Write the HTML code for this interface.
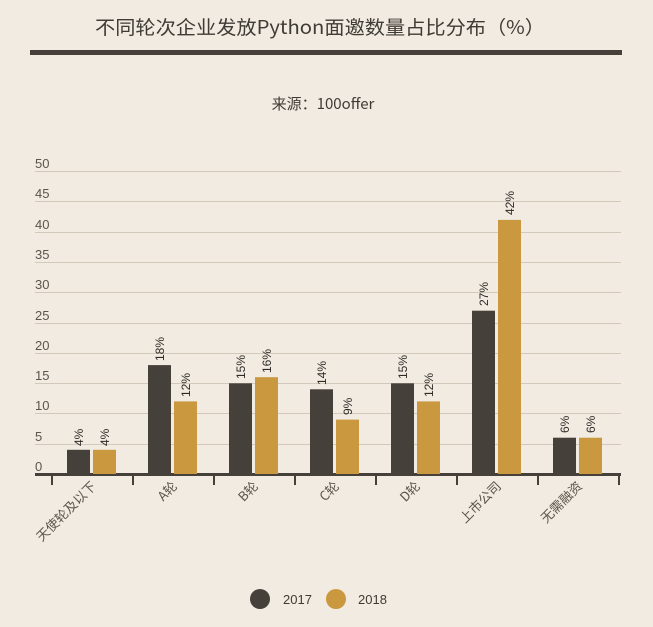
<!DOCTYPE html>
<html><head><meta charset="utf-8"><style>
html,body{margin:0;padding:0;background:#f1ebe1;}
svg{display:block;font-family:"Liberation Sans","Noto Sans CJK SC",sans-serif;}
</style></head><body>
<svg width="653" height="627" viewBox="0 0 653 627" xmlns="http://www.w3.org/2000/svg">
<rect width="653" height="627" fill="#f1ebe1"/>
<text x="320" y="34" text-anchor="middle" font-size="19" fill="#3f3b35" font-family="'Noto Sans CJK SC',sans-serif" textLength="450" lengthAdjust="spacingAndGlyphs">不同轮次企业发放Python面邀数量占比分布（%）</text>
<rect x="30" y="50" width="592" height="5" fill="#45413a"/>
<text x="323" y="109" text-anchor="middle" font-size="15" fill="#3f3b35" font-family="'Noto Sans CJK SC',sans-serif">来源：100offer</text>
<g stroke="#d3c9bb" stroke-width="1">
<line x1="35" x2="621" y1="171.5" y2="171.5"/>
<line x1="35" x2="621" y1="201.5" y2="201.5"/>
<line x1="35" x2="621" y1="232.5" y2="232.5"/>
<line x1="35" x2="621" y1="262.5" y2="262.5"/>
<line x1="35" x2="621" y1="292.5" y2="292.5"/>
<line x1="35" x2="621" y1="323.5" y2="323.5"/>
<line x1="35" x2="621" y1="353.5" y2="353.5"/>
<line x1="35" x2="621" y1="383.5" y2="383.5"/>
<line x1="35" x2="621" y1="413.5" y2="413.5"/>
<line x1="35" x2="621" y1="444.5" y2="444.5"/>
</g>
<g font-size="13" fill="#5a554d">
<text x="35" y="168">50</text><text x="35" y="198">45</text><text x="35" y="229">40</text>
<text x="35" y="259">35</text><text x="35" y="289">30</text><text x="35" y="320">25</text>
<text x="35" y="350">20</text><text x="35" y="380">15</text><text x="35" y="410">10</text>
<text x="35" y="441">5</text><text x="35" y="471">0</text>
</g>
<g id="bars"></g>
<rect x="35" y="473" width="586" height="3" fill="#45413a"/>
<g stroke="#45413a" stroke-width="2">
<line x1="52" x2="52" y1="475" y2="485"/><line x1="133" x2="133" y1="475" y2="485"/>
<line x1="214" x2="214" y1="475" y2="485"/><line x1="295" x2="295" y1="475" y2="485"/>
<line x1="376" x2="376" y1="475" y2="485"/><line x1="457" x2="457" y1="475" y2="485"/>
<line x1="538" x2="538" y1="475" y2="485"/><line x1="619" x2="619" y1="475" y2="485"/>
</g>
<!-- bars: y=474-6.05*v -->
<g>
<rect x="67" y="449.8" width="23" height="24.2" fill="#45413a"/><rect x="93" y="449.8" width="23" height="24.2" fill="#c9983f"/>
<rect x="148" y="365.1" width="23" height="108.9" fill="#45413a"/><rect x="174" y="401.4" width="23" height="72.6" fill="#c9983f"/>
<rect x="229" y="383.3" width="23" height="90.7" fill="#45413a"/><rect x="255" y="377.2" width="23" height="96.8" fill="#c9983f"/>
<rect x="310" y="389.3" width="23" height="84.7" fill="#45413a"/><rect x="336" y="419.6" width="23" height="54.4" fill="#c9983f"/>
<rect x="391" y="383.3" width="23" height="90.7" fill="#45413a"/><rect x="417" y="401.4" width="23" height="72.6" fill="#c9983f"/>
<rect x="472" y="310.7" width="23" height="163.3" fill="#45413a"/><rect x="498" y="219.9" width="23" height="254.1" fill="#c9983f"/>
<rect x="553" y="437.7" width="23" height="36.3" fill="#45413a"/><rect x="579" y="437.7" width="23" height="36.3" fill="#c9983f"/>
</g>
<g font-size="12" fill="#2e2b27">
<text transform="translate(83,446) rotate(-90)">4%</text><text transform="translate(109,446) rotate(-90)">4%</text>
<text transform="translate(164,361) rotate(-90)">18%</text><text transform="translate(190,397) rotate(-90)">12%</text>
<text transform="translate(245,379) rotate(-90)">15%</text><text transform="translate(271,373) rotate(-90)">16%</text>
<text transform="translate(326,385) rotate(-90)">14%</text><text transform="translate(352,415) rotate(-90)">9%</text>
<text transform="translate(407,379) rotate(-90)">15%</text><text transform="translate(433,397) rotate(-90)">12%</text>
<text transform="translate(488,306) rotate(-90)">27%</text><text transform="translate(514,215) rotate(-90)">42%</text>
<text transform="translate(569,433) rotate(-90)">6%</text><text transform="translate(595,433) rotate(-90)">6%</text>
</g>
<g font-size="13" fill="#5a554d" text-anchor="end" font-family="'Noto Sans CJK SC',sans-serif">
<text transform="translate(97,487) rotate(-45)">天使轮及以下</text>
<text transform="translate(178,487) rotate(-45)">A轮</text>
<text transform="translate(259,487) rotate(-45)">B轮</text>
<text transform="translate(340,487) rotate(-45)">C轮</text>
<text transform="translate(421,487) rotate(-45)">D轮</text>
<text transform="translate(502,487) rotate(-45)">上市公司</text>
<text transform="translate(583,487) rotate(-45)">无需融资</text>
</g>
<circle cx="260" cy="599" r="10" fill="#45413a"/>
<text x="283" y="604" font-size="13" fill="#3f3b35">2017</text>
<circle cx="336" cy="599" r="10" fill="#c9983f"/>
<text x="358" y="604" font-size="13" fill="#3f3b35">2018</text>
</svg>
</body></html>
